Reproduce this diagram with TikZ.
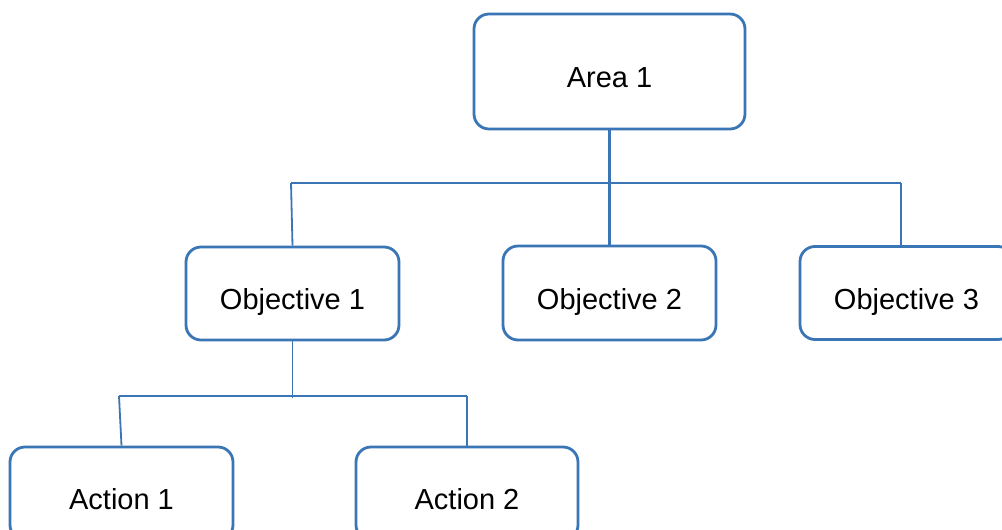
\documentclass[tikz,border=0pt]{standalone}
\usepackage{fontspec}
\setmainfont{Liberation Sans}
\definecolor{lineblue}{RGB}{58,117,181}
\begin{document}
\begin{tikzpicture}
  [x=1pt,y=1pt,every node/.style={font=\fontsize{29}{34}\selectfont}]
  \tikzstyle{box} = [draw=lineblue,line width=2.8pt,rounded corners=15pt,
    minimum width=213pt,minimum height=93pt,inner sep=0pt,
    text height=33pt,text depth=0pt]
  \tikzstyle{link} = [draw=lineblue,line width=2.7pt]
  \tikzstyle{thin} = [draw=lineblue,line width=1.8pt]
  \path[use as bounding box,clip] (0,0) rectangle (1002,530);

  \node[box,minimum width=271pt,minimum height=115pt] (area) at (609.5,458.5) {Area 1};
  \node[box] (obj1) at (292.5,236.5) {Objective 1};
  \node[box,minimum height=94pt] (obj2) at (609.5,237) {Objective 2};
  \node[box] (obj3) at (906.5,237) {Objective 3};
  \node[box,minimum width=223pt] (act1) at (121.5,36.5) {Action 1};
  \node[box,minimum width=222pt] (act2) at (467,36.5) {Action 2};

  \coordinate (barL) at (291,347);
  \coordinate (barR) at (901,347);
  \coordinate (lowL) at (119,134);
  \coordinate (lowR) at (467,134);
  \coordinate (lowM) at (292.5,132);

  \draw[link] (area) -- (obj2);
  \draw[link] (barL) -- (barR);
  \draw[link] (lowL) -- (lowR);
  \draw[thin] (barR) -- (barR |- obj3.north);
  \draw[thin] (obj1) -- (lowM);

  \foreach \source /\dest in {barL/obj1,lowL/act1,lowR/act2}
    \draw[thin] (\source) -- (\dest.north);

\end{tikzpicture}
\end{document}
